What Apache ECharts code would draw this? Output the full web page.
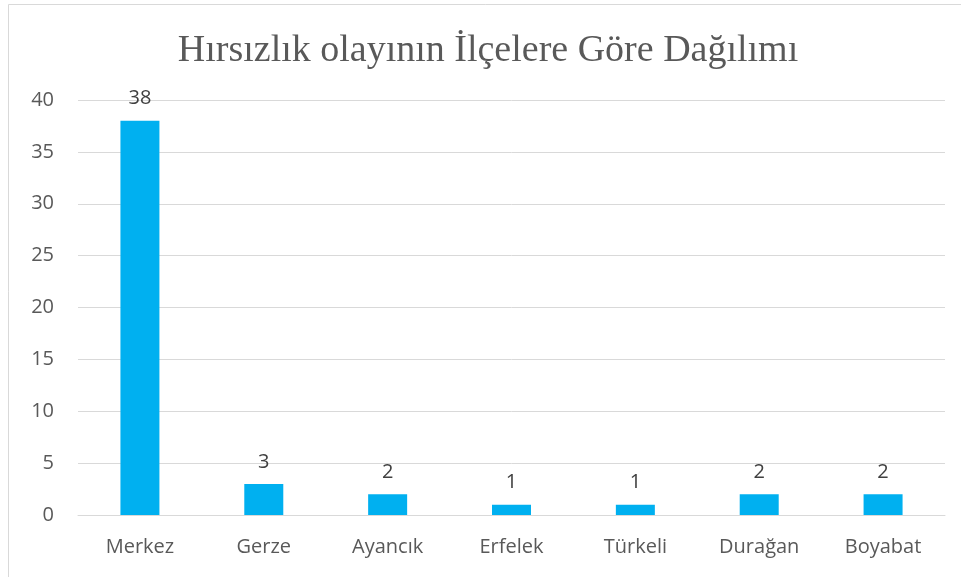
<!DOCTYPE html>
<html>
<head>
<meta charset="utf-8">
<script src="https://cdn.jsdelivr.net/npm/echarts@6/dist/echarts.min.js"></script>
<style>
  html, body { margin: 0; padding: 0; background: #fff; }
  #chart { width: 961px; height: 577px; }
</style>
</head>
<body>
<div id="chart"></div>
<script>
var categories = ['Merkez', 'Gerze', 'Ayancık', 'Erfelek', 'Türkeli', 'Durağan', 'Boyabat'];
var counts = [38, 3, 2, 1, 1, 2, 2];
var yTicks = { min: 0, max: 40, step: 5 };

var myChart = echarts.init(document.getElementById('chart'));
myChart.setOption({
    animation: false,
    backgroundColor: '#fff',
    title: {
        text: 'Hırsızlık olayının İlçelere Göre Dağılımı',
        left: 483,
        top: 27,
        textAlign: 'center',
        textStyle: {
            fontFamily: 'Liberation Serif',
            fontWeight: 'normal',
            fontSize: 38,
            color: '#595959'
        }
    },
    graphic: [{
        type: 'rect',
        shape: { x: 8.5, y: 4.5, width: 960, height: 580 },
        style: { fill: 'none', stroke: '#d9d9d9', lineWidth: 1 },
        silent: true
    }],
    grid: { left: 78, right: 16, top: 100, bottom: 62 },
    xAxis: {
        type: 'category',
        data: categories,
        axisLine: { lineStyle: { color: '#d9d9d9', width: 1 } },
        axisTick: { show: false },
        axisLabel: {
            margin: 22,
            fontFamily: 'Open Sans',
            fontSize: 20,
            color: '#595959'
        }
    },
    yAxis: {
        type: 'value',
        min: yTicks.min,
        max: yTicks.max,
        interval: yTicks.step,
        axisLine: { show: false },
        axisTick: { show: false },
        splitLine: { lineStyle: { color: '#d9d9d9', width: 1 } },
        axisLabel: {
            margin: 24,
            fontFamily: 'Open Sans',
            fontSize: 20,
            color: '#595959'
        }
    },
    series: [{
        type: 'bar',
        data: counts,
        barWidth: 39,
        itemStyle: { color: '#00b0f0' },
        label: {
            show: true,
            position: 'top',
            distance: 12,
            fontFamily: 'Open Sans',
            fontSize: 20,
            color: '#404040'
        }
    }]
});
</script>
</body>
</html>
